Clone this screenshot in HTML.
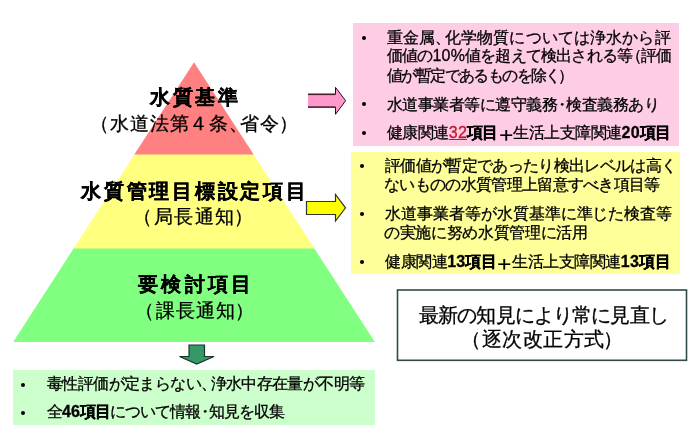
<!DOCTYPE html>
<html lang="ja">
<head>
<meta charset="utf-8">
<style>
html,body{margin:0;padding:0;background:#fff;}
body{width:694px;height:443px;position:relative;overflow:hidden;font-family:"Liberation Sans",sans-serif;color:#000;}
svg.bg{position:absolute;left:0;top:0;}
.box{position:absolute;}
.ln{position:absolute;white-space:nowrap;-webkit-text-stroke-width:0.3px;will-change:transform;}
.dot{position:absolute;width:4px;height:4px;border-radius:50%;background:#000;}
b{font-weight:bold;}
.n{letter-spacing:0.2px;}
.p{letter-spacing:-0.4em;}
.pm{margin-left:-0.22em;letter-spacing:-0.22em;}
.pl{margin-left:-0.4em;}
.pr{margin-left:-0.08em;letter-spacing:-0.4em;}
.plus{display:inline-block;transform:translateY(1.5px) scale(1.4,1.25);}
.red{color:#c01828;text-decoration:underline;font-weight:normal;}
</style>
</head>
<body>
<svg class="bg" width="694" height="443" viewBox="0 0 694 443">
  <polygon points="73.94,248 314.06,248 374.83,342 13.17,342" fill="#80ff80"/>
  <polygon points="134.72,154 253.28,154 314.44,248.6 73.56,248.6" fill="#ffff80"/>
  <polygon points="194,62.3 253.67,154.6 134.33,154.6" fill="#ff8080"/>
  <polygon points="308,94.3 335.5,94.3 335.5,87.4 345.6,100.7 335.5,114.3 335.5,107.1 308,107.1" fill="#ff99cc"/>
  <polyline points="308,94.3 335.5,94.3" fill="none" stroke="#4a1a30" stroke-width="1.6"/>
  <polyline points="308,107.1 335.5,107.1" fill="none" stroke="#4a1a30" stroke-width="1.6"/>
  <polyline points="335.5,94.3 335.5,87.4 345.6,100.7 335.5,114.3 335.5,107.1" fill="none" stroke="#2a0a1a" stroke-width="1.0"/>
  <polygon points="306.5,201.5 335.5,201.5 335.5,194.5 345.5,207.8 335.5,221 335.5,214.5 306.5,214.5" fill="#ffff00" stroke="#333" stroke-width="1.2"/>
  <polygon points="189,345 204.5,345 204.5,356.5 214,356.5 196.7,364 179.5,356.5 189,356.5" fill="#339966" stroke="#1a3326" stroke-width="1.2"/>
  <rect x="397.5" y="290" width="289" height="70.3" fill="none" stroke="#2f4a4a" stroke-width="1.6"/>
</svg>
<div class="box" style="left:353px;top:23px;width:326px;height:123px;background:#ffcce6;"></div>
<div class="box" style="left:351px;top:152px;width:329px;height:122px;background:#ffff99;"></div>
<div class="box" style="left:13px;top:370px;width:362px;height:55px;background:#ccffcc;"></div>
<div class="dot" style="left:362px;top:35.7px;"></div>
<div class="dot" style="left:362px;top:102.4px;"></div>
<div class="dot" style="left:362px;top:130.9px;"></div>
<div class="dot" style="left:359.7px;top:164.4px;"></div>
<div class="dot" style="left:359.7px;top:212px;"></div>
<div class="dot" style="left:359.7px;top:259.5px;"></div>
<div class="dot" style="left:21.2px;top:382.8px;"></div>
<div class="dot" style="left:21.2px;top:411.4px;"></div>
<div class="ln" id="A" style="left:150.40px;top:85.00px;font-size:20px;line-height:24px;height:24px;letter-spacing:2.67px;font-weight:bold;">水質基準</div>
<div class="ln" id="B" style="left:97.80px;top:111.50px;font-size:19px;line-height:23px;height:23px;letter-spacing:0.80px;"><span class="pl">（</span>水道法第４条<span class="p">、</span>省令<span class="pr">）</span></div>
<div class="ln" id="C" style="left:81.00px;top:179.00px;font-size:20px;line-height:24px;height:24px;letter-spacing:2.78px;font-weight:bold;">水質管理目標設定項目</div>
<div class="ln" id="D" style="left:141.00px;top:204.90px;font-size:19px;line-height:23px;height:23px;letter-spacing:1.40px;"><span class="pl">（</span>局長通知<span class="pr">）</span></div>
<div class="ln" id="E" style="left:138.00px;top:272.00px;font-size:20px;line-height:24px;height:24px;letter-spacing:3.25px;font-weight:bold;">要検討項目</div>
<div class="ln" id="F" style="left:142.60px;top:298.50px;font-size:19px;line-height:23px;height:23px;letter-spacing:1.20px;"><span class="pl">（</span>課長通知<span class="pr">）</span></div>
<div class="ln" id="P1" style="left:387.00px;top:27.90px;font-size:16px;line-height:20px;height:20px;letter-spacing:0.12px;">重金属<span class="p">、</span>化学物質については浄水から評</div>
<div class="ln" id="P2" style="left:387.00px;top:46.00px;font-size:16px;line-height:20px;height:20px;letter-spacing:-0.83px;">価値の<span class="n">10%</span>値を超えて検出される等<span class="pl">（</span>評価</div>
<div class="ln" id="P3" style="left:387.00px;top:66.00px;font-size:16px;line-height:20px;height:20px;letter-spacing:-1.61px;">値が暫定であるものを除く<span class="pr">）</span></div>
<div class="ln" id="P4" style="left:387.00px;top:95.00px;font-size:16px;line-height:20px;height:20px;letter-spacing:-0.52px;">水道事業者等に遵守義務<span class="pm">・</span>検査義務あり</div>
<div class="ln" id="P5" style="left:387.00px;top:122.90px;font-size:16px;line-height:20px;height:20px;letter-spacing:-0.55px;">健康関連<b class="red"><span class="n">32</span></b><b>項目</b><span class="plus">＋</span>生活上支障関連<b><span class="n">20</span>項目</b></div>
<div class="ln" id="Y1" style="left:385.00px;top:156.20px;font-size:16px;line-height:20px;height:20px;letter-spacing:-0.66px;">評価値が暫定であったり検出レベルは高く</div>
<div class="ln" id="Y2" style="left:384.00px;top:174.50px;font-size:16px;line-height:20px;height:20px;letter-spacing:-0.68px;">ないものの水質管理上留意すべき項目等</div>
<div class="ln" id="Y3" style="left:385.00px;top:203.90px;font-size:16px;line-height:20px;height:20px;letter-spacing:-0.04px;">水道事業者等が水質基準に準じた検査等</div>
<div class="ln" id="Y4" style="left:384.00px;top:223.20px;font-size:16px;line-height:20px;height:20px;letter-spacing:-0.33px;">の実施に努め水質管理に活用</div>
<div class="ln" id="Y5" style="left:385.00px;top:251.50px;font-size:16px;line-height:20px;height:20px;letter-spacing:-0.46px;">健康関連<b><span class="n">13</span>項目</b><span class="plus">＋</span>生活上支障関連<b><span class="n">13</span>項目</b></div>
<div class="ln" id="O1" style="left:418.60px;top:302.60px;font-size:20px;line-height:24px;height:24px;letter-spacing:-0.86px;">最新の知見により常に見直し</div>
<div class="ln" id="O2" style="left:469.20px;top:326.60px;font-size:20px;line-height:24px;height:24px;letter-spacing:0.52px;"><span class="pl">（</span>逐次改正方式<span class="pr">）</span></div>
<div class="ln" id="G1" style="left:47.20px;top:374.00px;font-size:16px;line-height:20px;height:20px;letter-spacing:-0.61px;">毒性評価が定まらない<span class="p">、</span>浄水中存在量が不明等</div>
<div class="ln" id="G2" style="left:47.20px;top:402.40px;font-size:16px;line-height:20px;height:20px;letter-spacing:-1.00px;">全<b><span class="n">46</span>項目</b>について情報<span class="pm">・</span>知見を収集</div>
</body>
</html>
